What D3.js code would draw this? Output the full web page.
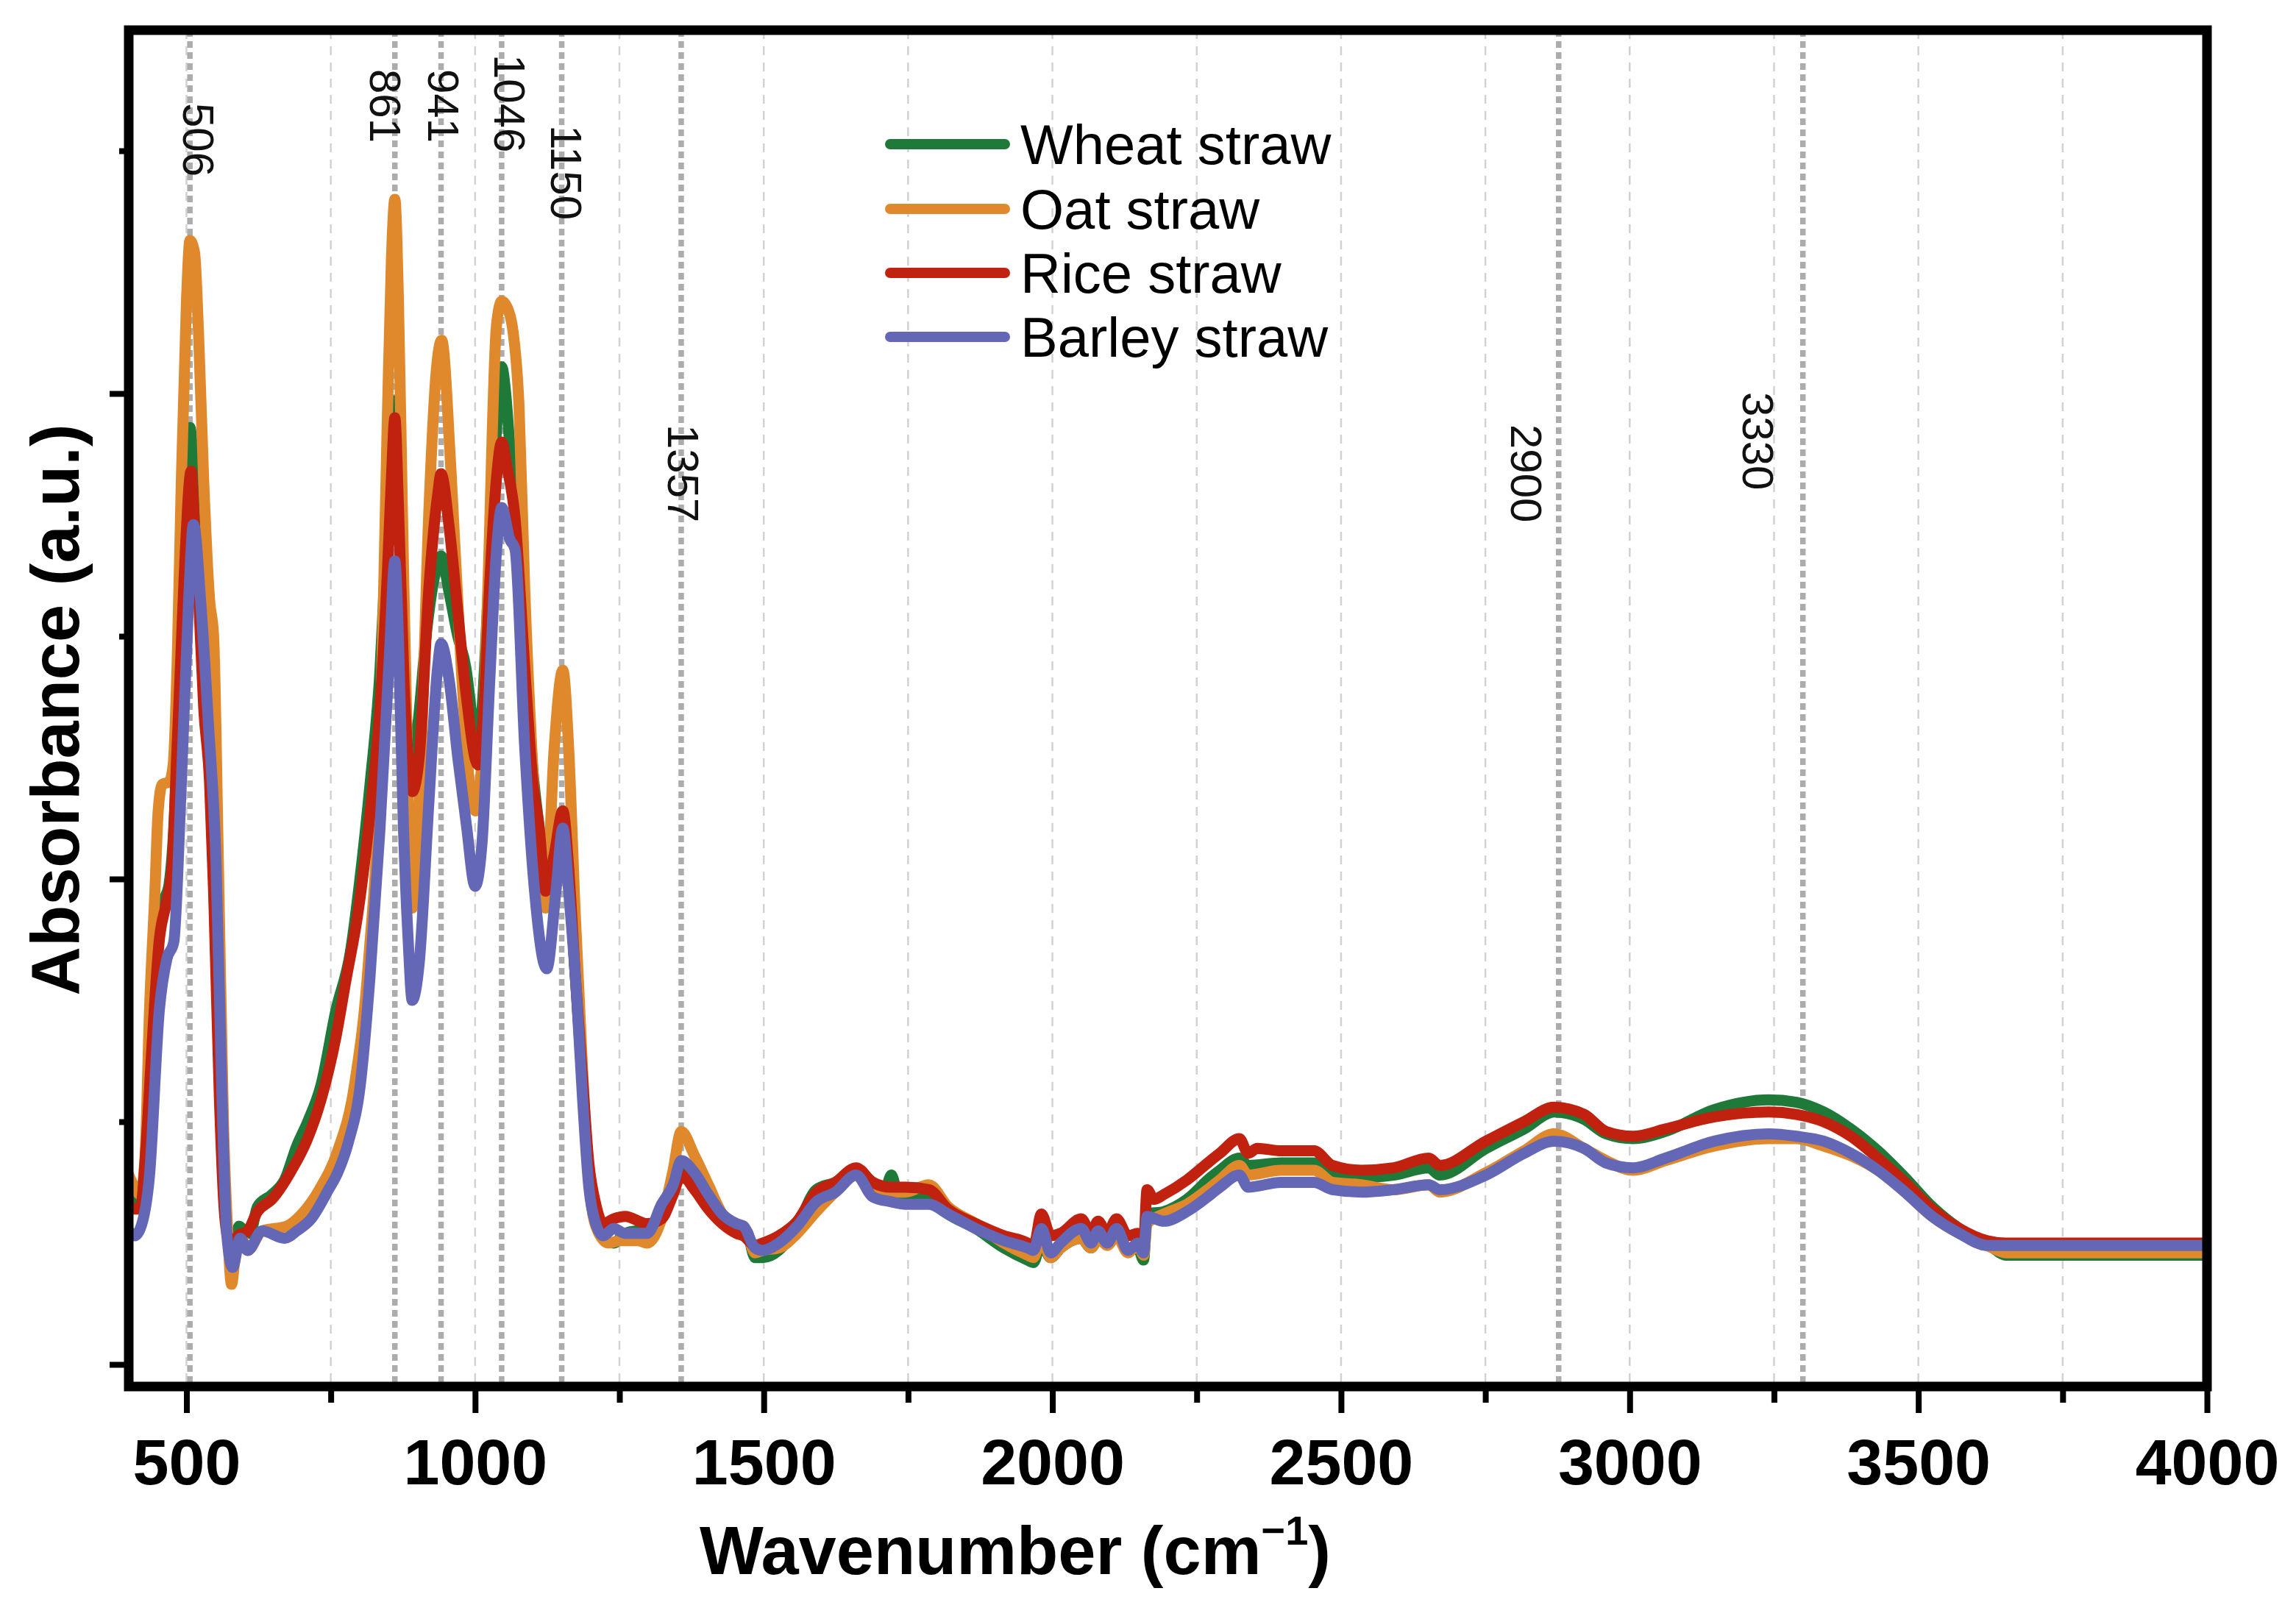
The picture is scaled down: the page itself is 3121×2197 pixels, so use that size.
<!DOCTYPE html>
<html>
<head>
<meta charset="utf-8">
<script src="https://cdn.jsdelivr.net/npm/d3@7"></script>
<style>
  body { margin: 0; background: #fff; }
  svg { display: block; font-family: "Liberation Sans", Arial, sans-serif; }
</style>
</head>
<body>
<svg id="chart" width="3121" height="2197"></svg>
<script>
// ---- data (wavenumber, absorbance a.u.) ----
var seriesNames = ["Wheat straw", "Oat straw", "Rice straw", "Barley straw"];
var seriesColors = ["#1f7a3a", "#e0892c", "#c0220f", "#6467b6"];

var wheatStraw = [[400,.072],[410,.070],[420,.066],[430,.085],[440,.125],[450,.170],[460,.190],[470,.198],[480,.230],[490,.300],[498,.345],[506,.386],[514,.360],[521,.322],[530,.280],[540,.245],[547,.200],[557,.130],[565,.075],[572,.052],[577,.047],[584,.050],[591,.057],[600,.055],[610,.054],[623,.065],[648,.070],[670,.076],[691,.090],[710,.100],[733,.115],[759,.146],[784,.170],[800,.199],[818,.239],[835,.285],[848,.347],[856,.385],[861,.397],[867,.360],[877,.290],[887,.247],[900,.262],[915,.300],[930,.325],[941,.333],[955,.318],[970,.300],[984,.287],[995,.265],[1001,.250],[1012,.270],[1025,.330],[1037,.385],[1046,.411],[1053,.400],[1060,.379],[1069,.359],[1080,.310],[1090,.280],[1100,.245],[1111,.221],[1122,.198],[1137,.215],[1152,.228],[1162,.210],[1173,.162],[1186,.115],[1197,.080],[1209,.060],[1222,.052],[1240,.050],[1260,.054],[1298,.056],[1323,.061],[1343,.072],[1357,.080],[1380,.075],[1404,.066],[1428,.060],[1453,.056],[1470,.055],[1485,.044],[1498,.044],[1526,.047],[1558,.057],[1591,.072],[1624,.075],[1660,.080],[1689,.075],[1710,.072],[1721,.078],[1732,.070],[1745,.068],[1786,.068],[1819,.062],[1867,.056],[1916,.048],[1957,.043],[1967,.042],[1981,.050],[1997,.044],[2014,.048],[2050,.052],[2067,.048],[2080,.052],[2095,.050],[2111,.053],[2131,.047],[2148,.048],[2158,.043],[2164,.062],[2193,.063],[2233,.068],[2274,.077],[2290,.080],[2324,.085],[2339,.082],[2396,.083],[2453,.083],[2485,.078],[2535,.077],[2591,.078],[2652,.081],[2671,.078],[2751,.089],[2817,.097],[2869,.104],[2921,.101],[2959,.095],[3006,.093],[3062,.096],[3147,.105],[3241,.109],[3289,.108],[3336,.104],[3383,.097],[3430,.088],[3477,.077],[3524,.065],[3571,.056],[3619,.050],[3652,.045],[3800,.045],[4000,.045]];

var oatStraw = [[400,.078],[410,.073],[420,.070],[428,.084],[436,.146],[445,.193],[451,.228],[458,.239],[470,.240],[477,.247],[484,.290],[491,.363],[500,.438],[506,.463],[514,.458],[521,.424],[530,.363],[540,.315],[547,.300],[555,.210],[564,.100],[572,.052],[578,.033],[585,.046],[593,.053],[606,.047],[631,.055],[674,.057],[700,.062],[730,.072],[762,.088],[791,.115],[815,.165],[835,.250],[848,.390],[855,.455],[861,.480],[867,.440],[874,.352],[884,.237],[891,.188],[903,.228],[920,.352],[933,.410],[942,.422],[958,.369],[976,.287],[990,.240],[1001,.228],[1012,.250],[1022,.319],[1037,.428],[1046,.438],[1058,.434],[1066,.425],[1076,.395],[1086,.319],[1098,.254],[1111,.205],[1122,.188],[1137,.254],[1152,.286],[1162,.254],[1173,.188],[1186,.122],[1197,.076],[1209,.057],[1231,.050],[1251,.051],[1282,.051],[1298,.050],[1323,.060],[1343,.080],[1357,.096],[1380,.086],[1404,.074],[1428,.062],[1453,.056],[1470,.054],[1485,.046],[1498,.047],[1526,.048],[1558,.054],[1591,.063],[1624,.071],[1660,.078],[1689,.071],[1721,.071],[1745,.071],[1786,.074],[1819,.065],[1867,.058],[1916,.050],[1957,.045],[1967,.044],[1981,.052],[1997,.044],[2014,.048],[2050,.052],[2067,.048],[2080,.052],[2095,.049],[2111,.053],[2131,.046],[2148,.050],[2158,.045],[2164,.058],[2193,.062],[2233,.066],[2274,.073],[2290,.076],[2324,.082],[2339,.078],[2396,.080],[2453,.080],[2485,.075],[2535,.074],[2591,.072],[2652,.074],[2671,.071],[2751,.079],[2817,.088],[2869,.095],[2921,.089],[2959,.084],[3006,.080],[3062,.084],[3147,.090],[3241,.093],[3289,.093],[3336,.090],[3383,.086],[3430,.080],[3477,.071],[3524,.061],[3571,.054],[3619,.049],[3652,.046],[3800,.046],[4000,.046]];

var riceStraw = [[400,.066],[410,.064],[420,.064],[430,.090],[440,.130],[453,.175],[465,.190],[475,.205],[483,.250],[490,.290],[498,.335],[508,.368],[514,.345],[521,.316],[530,.270],[540,.240],[547,.195],[557,.110],[565,.065],[573,.050],[578,.047],[589,.053],[606,.055],[623,.063],[648,.068],[682,.080],[708,.092],[733,.109],[759,.135],[776,.158],[797,.186],[818,.227],[835,.270],[848,.326],[855,.365],[861,.390],[867,.355],[877,.280],[884,.250],[891,.236],[903,.250],[920,.320],[935,.358],[941,.367],[955,.345],[970,.310],[985,.275],[1005,.247],[1015,.270],[1025,.320],[1037,.365],[1046,.380],[1055,.370],[1069,.349],[1086,.287],[1100,.240],[1111,.221],[1122,.195],[1137,.210],[1152,.228],[1162,.205],[1173,.162],[1186,.118],[1197,.083],[1209,.066],[1222,.058],[1240,.060],[1260,.061],[1298,.058],[1323,.060],[1343,.070],[1357,.078],[1380,.072],[1404,.064],[1428,.058],[1453,.054],[1465,.053],[1485,.049],[1498,.050],[1526,.053],[1558,.059],[1591,.071],[1624,.075],[1660,.081],[1689,.075],[1721,.073],[1745,.073],[1786,.072],[1819,.064],[1867,.058],[1916,.053],[1957,.050],[1967,.048],[1981,.062],[1997,.053],[2014,.054],[2050,.060],[2067,.054],[2079,.059],[2095,.054],[2111,.060],[2131,.053],[2148,.054],[2158,.050],[2164,.072],[2176,.068],[2193,.070],[2233,.076],[2274,.084],[2290,.087],[2324,.093],[2339,.087],[2355,.089],[2396,.088],[2453,.088],[2485,.082],[2535,.080],[2591,.081],[2652,.085],[2671,.082],[2751,.092],[2817,.100],[2869,.106],[2921,.103],[2959,.096],[3006,.094],[3062,.097],[3147,.102],[3241,.104],[3289,.103],[3336,.100],[3383,.094],[3430,.085],[3477,.075],[3524,.064],[3571,.056],[3619,.051],[3652,.050],[3800,.050],[4000,.050]];

var barleyStraw = [[400,.055],[410,.053],[420,.056],[436,.078],[453,.146],[466,.167],[478,.174],[491,.239],[504,.316],[512,.346],[525,.313],[538,.264],[551,.208],[561,.115],[570,.053],[580,.040],[593,.052],[606,.047],[631,.055],[670,.052],[691,.055],[716,.060],[746,.072],[762,.079],[781,.092],[801,.115],[818,.160],[835,.220],[852,.294],[861,.331],[867,.300],[876,.220],[884,.175],[891,.150],[903,.165],[920,.232],[935,.287],[941,.297],[955,.282],[970,.250],[985,.222],[1000,.197],[1012,.215],[1025,.280],[1037,.335],[1046,.353],[1060,.340],[1069,.336],[1086,.254],[1103,.195],[1124,.163],[1140,.195],[1152,.221],[1162,.195],[1175,.155],[1186,.110],[1197,.073],[1209,.058],[1222,.053],[1240,.056],[1260,.054],[1298,.054],[1323,.066],[1343,.074],[1357,.084],[1380,.079],[1404,.070],[1428,.062],[1453,.058],[1465,.057],[1485,.048],[1498,.047],[1526,.050],[1558,.057],[1591,.067],[1624,.071],[1660,.078],[1689,.069],[1721,.067],[1745,.066],[1786,.066],[1819,.062],[1867,.056],[1916,.051],[1957,.048],[1967,.047],[1981,.056],[1997,.046],[2014,.050],[2050,.056],[2067,.050],[2079,.055],[2095,.050],[2111,.056],[2131,.047],[2148,.050],[2158,.046],[2164,.061],[2193,.059],[2233,.063],[2274,.070],[2290,.073],[2324,.078],[2339,.073],[2396,.075],[2453,.075],[2485,.072],[2535,.071],[2591,.072],[2652,.074],[2671,.072],[2751,.078],[2817,.087],[2869,.092],[2921,.089],[2959,.083],[3006,.081],[3062,.085],[3147,.092],[3241,.095],[3289,.094],[3336,.092],[3383,.087],[3430,.080],[3477,.071],[3524,.061],[3571,.054],[3619,.049],[3652,.049],[3800,.049],[4000,.049]];

var allSeries = [wheatStraw, oatStraw, riceStraw, barleyStraw];

// marked bands: where the dashed line sits, and the label printed next to it
var peakLines = [506, 861, 941, 1046, 1150, 1357, 2877, 3300];
var peakLabels = ["506", "861", "941", "1046", "1150", "1357", "2900", "3330"];

var xMajorTicks = [500, 1000, 1500, 2000, 2500, 3000, 3500, 4000];
var xMinorTicks = [750, 1250, 1750, 2250, 2750, 3250, 3750];
var xGridLines = [500, 750, 1000, 1250, 1500, 1750, 2000, 2250, 2500, 2750, 3000, 3250, 3500, 3750];
var yMajorTicks = [0, 0.2, 0.4];
var yMinorTicks = [0.1, 0.3, 0.5];


var svg = d3.select("#chart");
svg.append("rect").attr("width", 3121).attr("height", 2197).attr("fill", "white");

// plot box (note: "top" is taken by window.top, so prefixed names)
var plotLeft = 175, plotRight = 3000, plotTop = 41, plotBottom = 1885;

var x = d3.scaleLinear().domain([400, 4000]).range([plotLeft, plotRight]);
var y = d3.scaleLinear().domain([0, 0.5]).range([1855, 205]);

// light grid
svg.append("g").selectAll("line")
    .data(xGridLines)
    .enter()
    .append("line")
    .attr("x1", function(d) { return x(d); })
    .attr("x2", function(d) { return x(d); })
    .attr("y1", plotTop)
    .attr("y2", plotBottom)
    .attr("stroke", "#d2d2d2")
    .attr("stroke-width", 2.5)
    .attr("stroke-dasharray", "12,10");

// peak lines
svg.append("g").selectAll("line")
    .data(peakLines)
    .enter()
    .append("line")
    .attr("x1", function(d) { return x(d); })
    .attr("x2", function(d) { return x(d); })
    .attr("y1", plotTop)
    .attr("y2", plotBottom)
    .attr("stroke", "#acacac")
    .attr("stroke-width", 7.5)
    .attr("stroke-dasharray", "9,6");

// label placement: [dx from the line, top y]
var labelLayout = [[-9, 140], [-34, 94], [-18, 94], [-10, 74], [-15, 170], [-18, 577], [-65, 577], [-82, 533]];

svg.append("g").selectAll("text")
    .data(peakLabels)
    .enter()
    .append("text")
    .attr("transform", function(d, i) {
        return "translate(" + (x(peakLines[i]) + labelLayout[i][0]) + "," + labelLayout[i][1] + ") rotate(90)";
    })
    .attr("font-size", 60)
    .attr("fill", "#111")
    .text(function(d) { return d; });

// spectra
svg.append("clipPath").attr("id", "plotClip")
    .append("rect")
    .attr("x", plotLeft).attr("y", plotTop)
    .attr("width", plotRight - plotLeft).attr("height", plotBottom - plotTop);

var line = d3.line()
    .x(function(d) { return x(d[0]); })
    .y(function(d) { return y(d[1]); })
    .curve(d3.curveMonotoneX);

svg.append("g")
    .attr("clip-path", "url(#plotClip)")
    .selectAll("path")
    .data(allSeries)
    .enter()
    .append("path")
    .attr("d", line)
    .attr("fill", "none")
    .attr("stroke", function(d, i) { return seriesColors[i]; })
    .attr("stroke-width", 15)
    .attr("stroke-linejoin", "round")
    .attr("stroke-linecap", "round");

// axes
var xAxisG = svg.append("g").attr("transform", "translate(0," + plotBottom + ")");
xAxisG.append("g")
    .call(d3.axisBottom(x).tickValues(xMajorTicks).tickSize(36).tickSizeOuter(0).tickFormat(d3.format("d")))
    .call(function(g) { g.select(".domain").remove(); });
xAxisG.append("g")
    .call(d3.axisBottom(x).tickValues(xMinorTicks).tickSize(22).tickSizeOuter(0).tickFormat(""))
    .call(function(g) { g.select(".domain").remove(); });
xAxisG.selectAll(".tick line").attr("stroke", "black").attr("stroke-width", 8);
xAxisG.selectAll(".tick text")
    .attr("dy", null)
    .attr("y", 133)
    .attr("font-size", 88)
    .attr("font-weight", "bold")
    .attr("font-family", "'Liberation Sans', Arial, sans-serif")
    .attr("fill", "black");

var yAxisG = svg.append("g").attr("transform", "translate(" + plotLeft + ",0)");
yAxisG.append("g")
    .call(d3.axisLeft(y).tickValues(yMajorTicks).tickSize(26).tickSizeOuter(0).tickFormat(""))
    .call(function(g) { g.select(".domain").remove(); });
yAxisG.append("g")
    .call(d3.axisLeft(y).tickValues(yMinorTicks).tickSize(13).tickSizeOuter(0).tickFormat(""))
    .call(function(g) { g.select(".domain").remove(); });
yAxisG.selectAll(".tick line").attr("stroke", "black").attr("stroke-width", 8);

// frame
svg.append("rect")
    .attr("x", plotLeft).attr("y", plotTop)
    .attr("width", plotRight - plotLeft).attr("height", plotBottom - plotTop)
    .attr("fill", "none")
    .attr("stroke", "black")
    .attr("stroke-width", 13);

// axis titles
var xTitle = svg.append("text")
    .attr("x", 951)
    .attr("y", 2140)
    .attr("font-size", 92)
    .attr("font-weight", "bold");
xTitle.append("tspan").text("Wavenumber (cm");
xTitle.append("tspan").attr("dy", -40).attr("font-size", 56).text("\u22121");
xTitle.append("tspan").attr("dy", 40).text(")");

svg.append("text")
    .attr("transform", "translate(107,965) rotate(-90)")
    .attr("text-anchor", "middle")
    .attr("font-size", 92)
    .attr("font-weight", "bold")
    .text("Absorbance (a.u.)");

// legend
var legendY = [196, 284, 371, 458];
var legend = svg.append("g");
legend.selectAll("line")
    .data(seriesNames)
    .enter()
    .append("line")
    .attr("x1", 1210).attr("x2", 1366)
    .attr("y1", function(d, i) { return legendY[i]; })
    .attr("y2", function(d, i) { return legendY[i]; })
    .attr("stroke", function(d, i) { return seriesColors[i]; })
    .attr("stroke-width", 14)
    .attr("stroke-linecap", "round");
legend.selectAll("text")
    .data(seriesNames)
    .enter()
    .append("text")
    .attr("x", 1387)
    .attr("y", function(d, i) { return legendY[i] + 27; })
    .attr("font-size", 76)
    .text(function(d) { return d; });
</script>
</body>
</html>
